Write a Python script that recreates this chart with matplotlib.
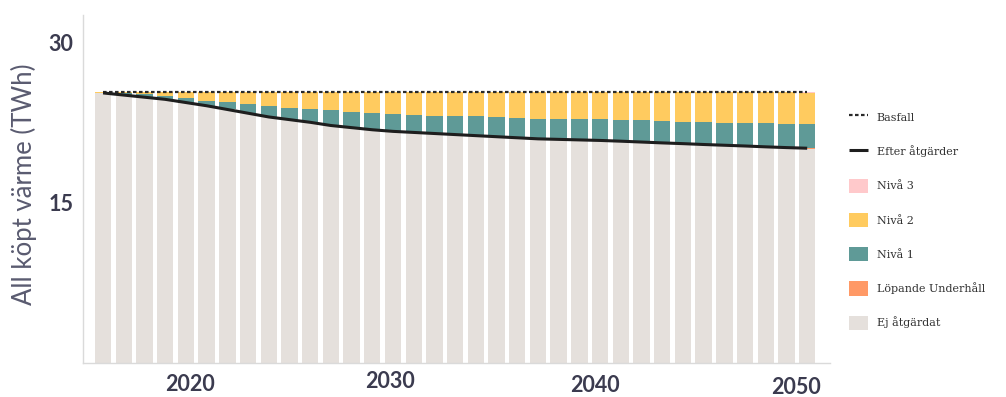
import matplotlib
matplotlib.use("Agg")
import matplotlib.pyplot as plt
import matplotlib.transforms as mtransforms
import numpy as np

# Years and stacked components (TWh)
years = list(range(2016, 2051))

ej_atgardat = [25.30, 25.10, 24.90, 24.70, 24.40, 24.10, 23.75, 23.40, 23.05, 22.80,
               22.55, 22.25, 22.05, 21.85, 21.70, 21.60, 21.50, 21.40, 21.30, 21.20,
               21.10, 21.00, 20.95, 20.90, 20.85, 20.78, 20.70, 20.62, 20.55, 20.47,
               20.40, 20.33, 20.25, 20.18, 20.05]
lopande_underhall = [0.0] * 34 + [0.07]
niva1 = [0.00, 0.18, 0.29, 0.33, 0.41, 0.49, 0.66, 0.85, 1.04, 1.11,
         1.23, 1.41, 1.45, 1.55, 1.58, 1.62, 1.66, 1.74, 1.80, 1.80,
         1.84, 1.90, 1.91, 1.94, 1.97, 2.00, 2.02, 2.04, 2.05, 2.09,
         2.13, 2.17, 2.22, 2.23, 2.23]
niva2 = [0.06, 0.07, 0.16, 0.32, 0.54, 0.76, 0.94, 1.10, 1.26, 1.44,
         1.57, 1.69, 1.85, 1.95, 2.07, 2.13, 2.19, 2.21, 2.25, 2.35,
         2.41, 2.45, 2.49, 2.51, 2.53, 2.57, 2.63, 2.69, 2.75, 2.79,
         2.82, 2.85, 2.88, 2.94, 2.97]
niva3 = [0.0] * 34 + [0.06]
basfall = [25.42] * 35

efter_atgarder = list(np.array(ej_atgardat) + np.array(lopande_underhall))

xtick_years = [2020, 2030, 2040, 2050]
ytick_values = [15, 30]

col_ej = "#E5E0DC"
col_lop = "#FF9966"
col_n1 = "#5F9A97"
col_n2 = "#FFCB5F"
col_n3 = "#FFC9CB"
text_dark = "#3B3B4F"

fig = plt.figure(figsize=(10.06, 3.97), dpi=100)
ax = fig.add_axes([0.0825, 0.0856, 0.7425, 0.8766])

x = np.array(years)
w = 0.79
bottom = np.zeros(len(years))
bar_handles = {}
for vals, col, lab in [(ej_atgardat, col_ej, "Ej åtgärdat"),
                       (lopande_underhall, col_lop, "Löpande Underhåll"),
                       (niva1, col_n1, "Nivå 1"),
                       (niva2, col_n2, "Nivå 2"),
                       (niva3, col_n3, "Nivå 3")]:
    v = np.array(vals)
    bar_handles[lab] = ax.bar(x, v, width=w, bottom=bottom, color=col,
                              linewidth=0, label=lab)
    bottom += v

h_bas, = ax.plot(x, basfall, color="#2A2A2A", lw=1.6,
                 linestyle=(0, (1.6, 1.1)), label="Basfall")
h_eft, = ax.plot(x, efter_atgarder, color="#1E1E1E", lw=2.2,
                 solid_capstyle="butt", label="Efter åtgärder")

ax.set_xlim(2015.03, 2051.1)
ax.set_ylim(0, 32.6)

for side in ["top", "right"]:
    ax.spines[side].set_visible(False)
for side in ["left", "bottom"]:
    ax.spines[side].set_color("#DADADA")
    ax.spines[side].set_linewidth(1.0)

ax.set_yticks(ytick_values)
ax.set_yticklabels([str(v) for v in ytick_values])
ax.set_xticks(xtick_years)
ax.set_xticklabels([str(v) for v in xtick_years])
ax.tick_params(axis="both", length=0, labelsize=15.5, labelcolor=text_dark)
ax.tick_params(axis="y", pad=7)
ax.tick_params(axis="x", pad=8)
for lab in ax.get_xticklabels() + ax.get_yticklabels():
    lab.set_fontfamily("Lato")
    lab.set_fontweight("bold")

# small per-label nudges of the year labels (points)
nudges = [(3, 0), (-2, 2), (-4, -0.5), (-8, -2)]
for lab, (dx, dy) in zip(ax.get_xticklabels(), nudges):
    lab.set_transform(lab.get_transform() +
                      mtransforms.ScaledTranslation(dx / 72, dy / 72, fig.dpi_scale_trans))

ax.set_ylabel("All köpt värme (TWh)", fontsize=18.5, color="#5A5B70",
              family="Lato")
ax.yaxis.set_label_coords(-0.062, 0.515)

handles = [h_bas, h_eft, bar_handles["Nivå 3"], bar_handles["Nivå 2"],
           bar_handles["Nivå 1"], bar_handles["Löpande Underhåll"],
           bar_handles["Ej åtgärdat"]]
labels = [h.get_label() for h in handles]
leg = fig.legend(handles, labels, loc="upper left",
                 bbox_to_anchor=(849 / 1006, 1 - 110 / 397),
                 frameon=False, prop={"family": "DejaVu Serif", "size": 8},
                 labelspacing=1.8, handlelength=1.75, handleheight=1.6,
                 handletextpad=0.75, borderaxespad=0, borderpad=0)
for t in leg.get_texts():
    t.set_color("#333333")

fig.savefig("out.png", dpi=100)
